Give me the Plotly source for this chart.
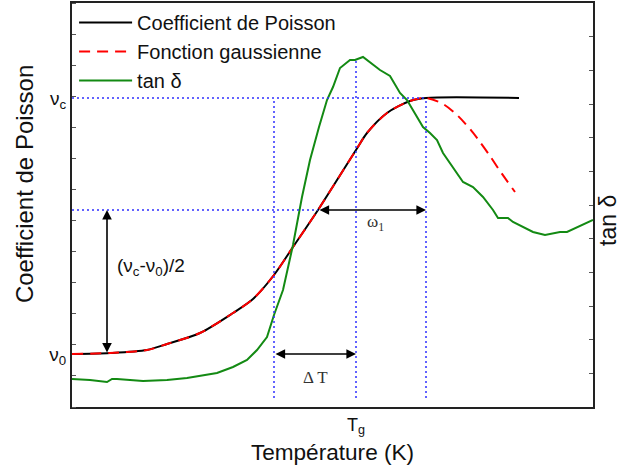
import plotly.graph_objects as go

# ---- data (arbitrary temperature / property units) ----
T_poisson = [0, 38, 75, 95, 128, 161, 181, 202, 221, 246, 284, 295, 315, 338, 354, 447]
nu_poisson = [53, 54, 57, 63, 74, 94, 108, 132, 160, 197, 257, 274, 294, 306, 309, 309]

T_gauss = [0, 38, 75, 95, 128, 161, 181, 202, 221, 246, 284, 295, 315, 338, 354,
           371, 385, 398, 408, 418, 428, 443]
nu_gauss = [53, 54, 57, 63, 74, 94, 108, 132, 160, 197, 257, 274, 294, 306, 309,
            303, 292, 278, 265, 251, 236, 215]

T_tan = [0, 18, 35, 40, 45, 71, 95, 115, 145, 161, 175, 185, 195, 202, 211, 221, 230, 238, 247, 255, 261,
         268, 278, 283, 291, 298, 308, 318, 328, 335, 345, 351, 358, 365, 371, 381, 391, 401, 411, 421,
         426, 436, 441, 461, 473, 488, 495, 521]
tan_delta = [28, 27, 25, 28, 28, 26, 27, 29, 34, 40, 47, 57, 70, 92, 117, 162, 210, 247, 280, 307, 320,
             339, 347, 347, 350, 345, 337, 331, 314, 307, 290, 280, 274, 267, 254, 240, 225, 220, 210, 197,
             189, 189, 185, 175, 172, 175, 175, 187]

# characteristic values
nu_0 = 53
nu_c = 309
nu_half = 197
T_start = 202
T_g = 284
T_half = 246
T_c = 354
tan_peak = 347
guide_bottom = 9
arrow_T = 35

X_RANGE = [0, 521]
Y_RANGE = [0, 404]

SANS = "Liberation Sans, Arial, sans-serif"
SERIF = "Liberation Serif, Times New Roman, serif"

fig = go.Figure()

fig.add_trace(go.Scatter(x=T_poisson, y=nu_poisson, mode="lines", name="Coefficient de Poisson",
                         line=dict(color="black", width=2, shape="spline", smoothing=0.8)))
fig.add_trace(go.Scatter(x=T_gauss, y=nu_gauss, mode="lines", name="Fonction gaussienne",
                         line=dict(color="red", width=2, dash="11px,7px", shape="spline", smoothing=0.8)))
fig.add_trace(go.Scatter(x=T_tan, y=tan_delta, mode="lines", name="tan δ", yaxis="y2",
                         line=dict(color="#138a13", width=2)))

# blue dotted guide lines
guide = dict(color="#2f2fff", width=1.5, dash="2px,3px")
fig.add_shape(type="line", x0=T_start, x1=T_start, y0=guide_bottom, y1=nu_c, line=guide)
fig.add_shape(type="line", x0=T_g, x1=T_g, y0=guide_bottom, y1=tan_peak, line=guide)
fig.add_shape(type="line", x0=T_c, x1=T_c, y0=guide_bottom, y1=nu_c, line=guide)
fig.add_shape(type="line", x0=0, x1=T_c, y0=nu_c, y1=nu_c, line=guide)
fig.add_shape(type="line", x0=0, x1=T_half, y0=nu_half, y1=nu_half, line=guide)

# double arrows
arrow = dict(showarrow=True, arrowhead=2, arrowside="end+start", arrowsize=1.2, arrowwidth=1.6,
             arrowcolor="black", text="", axref="x", ayref="y", xref="x", yref="y",
             standoff=0, startstandoff=0)
fig.add_annotation(x=arrow_T, y=nu_half, ax=arrow_T, ay=nu_0, **arrow)
fig.add_annotation(x=T_g, y=nu_0, ax=T_start, ay=nu_0, **arrow)
fig.add_annotation(x=T_c, y=nu_half, ax=T_half, ay=nu_half, **arrow)

fig.add_annotation(x=79, y=140, text="(ν<sub>c</sub>-ν<sub>0</sub>)/2", showarrow=False,
                   font=dict(family=SANS, size=19, color="#111"))
fig.add_annotation(x=(T_start + T_g) / 2, y=30, text="Δ T", showarrow=False,
                   font=dict(family=SERIF, size=17, color="#333"))
fig.add_annotation(x=303, y=184, text="ω<sub>1</sub>", showarrow=False,
                   font=dict(family=SERIF, size=17, color="#333"))

# vertical axis titles (placed as rotated text beside the axes)
fig.add_annotation(xref="paper", yref="paper", x=-0.09, y=0.552, text="Coefficient de Poisson",
                   textangle=-90, showarrow=False, xanchor="center", yanchor="middle",
                   font=dict(size=24, family=SANS, color="#111"))
fig.add_annotation(xref="paper", yref="paper", x=1.03, y=0.462, text="tan δ",
                   textangle=-90, showarrow=False, xanchor="center", yanchor="middle",
                   font=dict(size=23, family=SANS, color="#111"))

fig.update_layout(
    width=625, height=473,
    margin=dict(l=72, r=32, t=3, b=66, autoexpand=False),
    paper_bgcolor="white", plot_bgcolor="white",
    font=dict(family=SANS, color="#111"),
    showlegend=True,
    legend=dict(x=0.004, y=1.0, xanchor="left", yanchor="top", bgcolor="rgba(0,0,0,0)",
                font=dict(family=SANS, size=20, color="#111"), itemwidth=53),
    xaxis=dict(range=X_RANGE, showgrid=False, zeroline=False, showline=True, linecolor="#222",
               linewidth=2, mirror=True, ticks="", tickmode="array", tickvals=[T_g], automargin=False,
               ticktext=["T<sub>g</sub>"], tickfont=dict(size=18, family=SANS, color="#111"),
               title=dict(text="Température (K)", font=dict(size=22.6, family=SANS, color="#111"), standoff=8)),
    yaxis=dict(range=Y_RANGE, showgrid=False, zeroline=False, showline=True, linecolor="#222",
               linewidth=2, ticks="", tickmode="array", tickvals=[nu_0, nu_c], automargin=False,
               ticktext=["ν<sub>0</sub>", "ν<sub>c</sub>"], tickfont=dict(size=19, family=SANS, color="#111"),
               minor=dict(ticks="inside", ticklen=4, tickcolor="#555", tickwidth=1,
                          tickmode="linear", tick0=0, dtick=404 / 13)),
    yaxis2=dict(range=Y_RANGE, overlaying="y", side="right", showgrid=False, zeroline=False,
                showline=True, linecolor="#222", linewidth=2, ticks="inside", ticklen=4, automargin=False,
                tickcolor="#555", tickwidth=1, tickmode="linear", tick0=0, dtick=404 / 12,
                showticklabels=False),
)

fig.write_html("out.html", config={"displayModeBar": False},
               post_script="document.body.style.margin='0';")
